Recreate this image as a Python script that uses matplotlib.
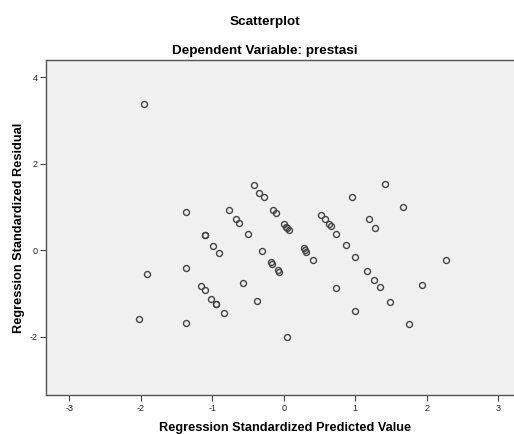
import matplotlib
matplotlib.use("Agg")
import matplotlib.pyplot as plt

# Regression standardized predicted values (x) and residuals (y)
pred = [-1.96, -1.37, -1.10, -1.10, -0.99, -0.91, -0.77, -0.67, -0.62, -0.50,
        -0.42, -0.35, -0.28, -0.15, -0.11, 0.01, 0.03, 0.05, 0.07, -0.31,
        0.28, 0.30, 0.31, 0.41, -0.18, -0.17, -0.08, -0.07, 0.52, 0.58,
        0.64, 0.66, 0.73, 0.87, 0.95, 1.19, 1.28, 1.41, 1.67, 0.99,
        1.16, 1.26, 1.34, 1.49, 0.73, 0.99, 1.75, 1.93, 2.27, 0.05,
        -0.37, -0.57, -1.91, -1.36, -1.16, -1.10, -1.01, -0.95, -0.95, -0.84,
        -2.02, -1.36]
resid = [3.39, 0.89, 0.35, 0.35, 0.10, -0.06, 0.93, 0.73, 0.62, 0.38,
         1.50, 1.33, 1.23, 0.92, 0.85, 0.60, 0.54, 0.50, 0.46, -0.01,
         0.04, 0.00, -0.05, -0.24, -0.28, -0.31, -0.47, -0.51, 0.82, 0.71,
         0.60, 0.56, 0.38, 0.11, 1.23, 0.73, 0.52, 1.53, 1.00, -0.15,
         -0.49, -0.69, -0.86, -1.19, -0.88, -1.41, -1.72, -0.80, -0.22, -2.02,
         -1.18, -0.75, -0.56, -0.41, -0.83, -0.93, -1.13, -1.25, -1.25, -1.46,
         -1.59, -1.68]

xticks = [-3, -2, -1, 0, 1, 2, 3]
yticks = [-2, 0, 2, 4]

plt.rcParams["font.family"] = ["Liberation Sans", "DejaVu Sans"]
plt.rcParams["axes.unicode_minus"] = False

fig = plt.figure(figsize=(5.14, 4.34), dpi=100)
ax = fig.add_axes([0.090, 0.089, 0.910, 0.773])
ax.set_facecolor("#f0f0f0")

ax.plot(pred, resid, linestyle="none", marker="o", markersize=4.3,
        markerfacecolor="none", markeredgecolor="#444444", markeredgewidth=1.0)

ax.set_xlim(-3.32, 3.22)
ax.set_ylim(-3.36, 4.40)
ax.set_xticks(xticks)
ax.set_yticks(yticks)
ax.tick_params(direction="out", length=4, width=0.8, colors="#444444",
               labelsize=6.5, labelcolor="#222222", pad=2)

for side in ["left", "bottom", "top"]:
    ax.spines[side].set_color("#555555")
    ax.spines[side].set_linewidth(1.0)
ax.spines["right"].set_visible(False)

# axis labels placed by hand so they sit where the reference has them
fig.text(0.554, 0.014, "Regression Standardized Predicted Value", ha="center",
         va="center", fontsize=9.2, fontweight="bold")
fig.text(0.036, 0.475, "Regression Standardized Residual", ha="center",
         va="center", rotation=90, fontsize=9.2, fontweight="bold")

fig.text(0.515, 0.949, "Scatterplot", ha="center", va="center",
         fontsize=9.7, fontweight="bold")
fig.text(0.515, 0.876, "Dependent Variable: prestasi", ha="center",
         va="baseline", fontsize=9.7, fontweight="bold")

fig.savefig("out.png", dpi=100)
